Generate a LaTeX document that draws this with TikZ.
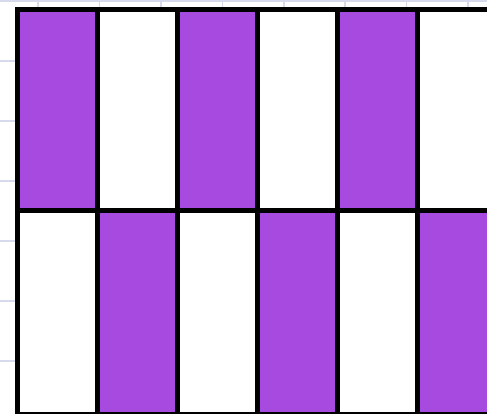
\documentclass[tikz,border=0pt]{standalone}
\definecolor{cellpurple}{RGB}{167,75,224}
\definecolor{gridblue}{RGB}{214,218,236}
\tikzset{
  cell/.style={draw=black, line width=5pt},
  purplecell/.style={cell, fill=cellpurple},
  whitecell/.style={cell, fill=white},
  bggrid/.style={draw=gridblue, line width=1.2pt}
}
\begin{document}
\begin{tikzpicture}[x=1pt,y=-1pt]
\useasboundingbox (0,0) rectangle (487,413);
\clip (0,0) rectangle (487,413);
\fill[white] (0,0) rectangle (487,413);
% faint background grid
\foreach \yy in {1,61,121,181,241,301,361}
  \draw[bggrid] (0,\yy) -- (487,\yy);
\foreach \xx in {38,99.5,161,222.5,284,345,406.5,468}
  \draw[bggrid] (\xx,0) -- (\xx,413);
% cells
\foreach \k in {0,...,5} {
  \pgfmathsetmacro{\xa}{17.5+80*\k}
  \pgfmathsetmacro{\xb}{97.5+80*\k}
  \ifodd\k
    \draw[whitecell] (\xa,9.5) rectangle (\xb,210.5);
    \draw[purplecell] (\xa,210.5) rectangle (\xb,414.5);
  \else
    \draw[purplecell] (\xa,9.5) rectangle (\xb,210.5);
    \draw[whitecell] (\xa,210.5) rectangle (\xb,414.5);
  \fi
}
\end{tikzpicture}
\end{document}
